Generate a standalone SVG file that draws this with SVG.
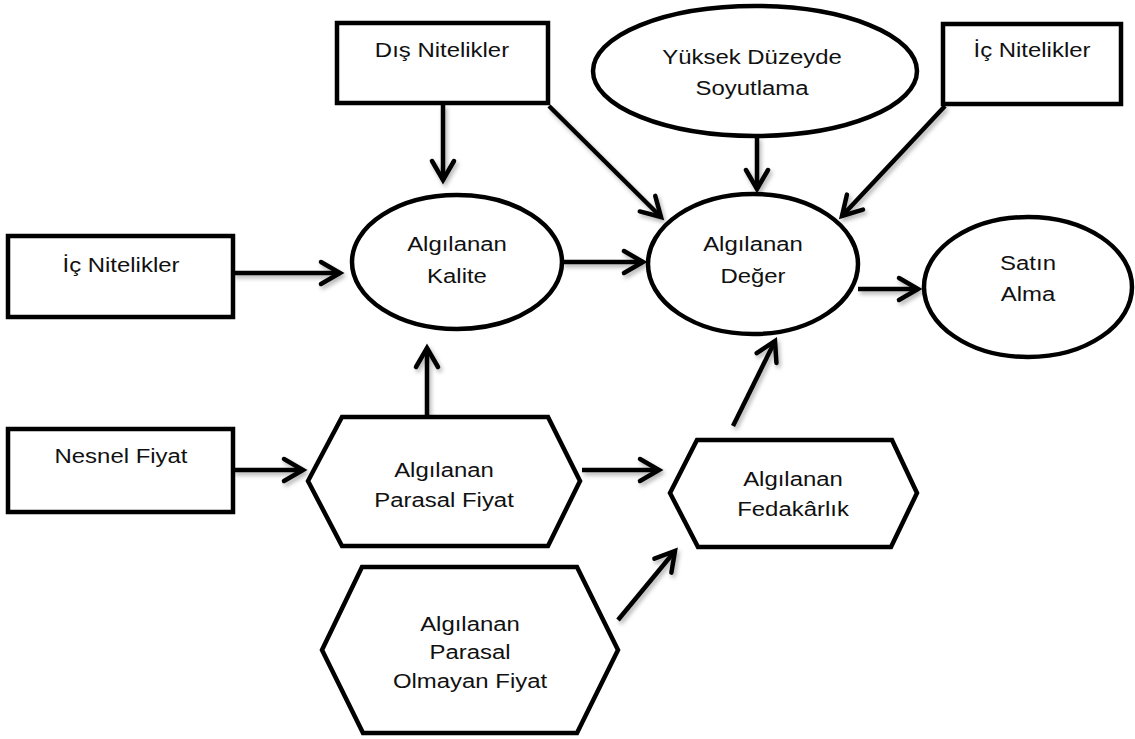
<svg xmlns="http://www.w3.org/2000/svg" width="1135" height="739" viewBox="0 0 1135 739">
  <style>
    .shape { fill: #ffffff; stroke: #000000; stroke-width: 4.5; stroke-linejoin: miter; }
    .lbl { font-family: "Liberation Sans", Arial, sans-serif; font-size: 21px; fill: #111111; text-anchor: middle; }
    .link { fill: none; stroke: #000000; stroke-width: 4.5; marker-end: url(#head); }
  </style>
  <defs>
    <marker id="head" markerUnits="userSpaceOnUse" markerWidth="40" markerHeight="40" viewBox="-25 -20 40 40" refX="0" refY="0" orient="auto" overflow="visible">
      <path d="M-19,-11 L0,0 L-19,11" fill="none" stroke="#000000" stroke-width="4.5" stroke-linecap="round" stroke-linejoin="miter"/>
    </marker>
    <filter id="soft" x="-20%" y="-20%" width="140%" height="140%">
      <feDropShadow dx="2" dy="3" stdDeviation="2" flood-color="#000000" flood-opacity="0.3"/>
    </filter>
  </defs>

  <rect width="1135" height="739" fill="#ffffff"/>

  <!-- connectors -->
  <g id="connectors" filter="url(#soft)">
    <path class="link" d="M443,105 L443,180"/>
    <path class="link" d="M549,106 L661,217"/>
    <path class="link" d="M757,137 L757,189"/>
    <path class="link" d="M945,106 L842,216"/>
    <path class="link" d="M233,273 L340,273"/>
    <path class="link" d="M562,262 L643,262"/>
    <path class="link" d="M858,289 L918,289"/>
    <path class="link" d="M427,417 L427,348"/>
    <path class="link" d="M233,470 L303,470"/>
    <path class="link" d="M582,470 L659,470"/>
    <path class="link" d="M733,426 L775,341"/>
    <path class="link" d="M618,620 L675,551"/>
  </g>

  <!-- nodes -->
  <g id="dis-nitelikler">
    <rect class="shape" x="337" y="23" width="211" height="80"/>
    <text class="lbl" transform="translate(442,57) scale(1.14,1)">Dış Nitelikler</text>
  </g>

  <g id="yuksek-duzeyde-soyutlama">
    <ellipse class="shape" cx="755" cy="71" rx="162" ry="65"/>
    <text class="lbl" transform="translate(752,64) scale(1.14,1)">Yüksek Düzeyde</text>
    <text class="lbl" transform="translate(752,95) scale(1.14,1)">Soyutlama</text>
  </g>

  <g id="ic-nitelikler-ust">
    <rect class="shape" x="943" y="24" width="178" height="80"/>
    <text class="lbl" transform="translate(1032,57) scale(1.14,1)">İç Nitelikler</text>
  </g>

  <g id="ic-nitelikler-sol">
    <rect class="shape" x="8" y="236" width="225" height="81"/>
    <text class="lbl" transform="translate(121,272) scale(1.14,1)">İç Nitelikler</text>
  </g>

  <g id="algilanan-kalite">
    <ellipse class="shape" cx="457" cy="262" rx="105" ry="67"/>
    <text class="lbl" transform="translate(457,251) scale(1.14,1)">Algılanan</text>
    <text class="lbl" transform="translate(457,283) scale(1.14,1)">Kalite</text>
  </g>

  <g id="algilanan-deger">
    <ellipse class="shape" cx="753" cy="264" rx="105" ry="70"/>
    <text class="lbl" transform="translate(753,251) scale(1.14,1)">Algılanan</text>
    <text class="lbl" transform="translate(753,283) scale(1.14,1)">Değer</text>
  </g>

  <g id="satin-alma">
    <ellipse class="shape" cx="1028" cy="287" rx="104" ry="70"/>
    <text class="lbl" transform="translate(1028,270) scale(1.14,1)">Satın</text>
    <text class="lbl" transform="translate(1028,301) scale(1.14,1)">Alma</text>
  </g>

  <g id="nesnel-fiyat">
    <rect class="shape" x="8" y="429" width="225" height="83"/>
    <text class="lbl" transform="translate(121,463) scale(1.14,1)">Nesnel Fiyat</text>
  </g>

  <g id="algilanan-parasal-fiyat">
    <polygon class="shape" points="308,481 342,417 548,417 580,481 548,546 342,546"/>
    <text class="lbl" transform="translate(444,477) scale(1.14,1)">Algılanan</text>
    <text class="lbl" transform="translate(444,507) scale(1.14,1)">Parasal Fiyat</text>
  </g>

  <g id="algilanan-fedakarlik">
    <polygon class="shape" points="670,493 697,440 892,440 917,493 891,547 698,547"/>
    <text class="lbl" transform="translate(793,486) scale(1.14,1)">Algılanan</text>
    <text class="lbl" transform="translate(793,516) scale(1.14,1)">Fedakârlık</text>
  </g>

  <g id="algilanan-parasal-olmayan-fiyat">
    <polygon class="shape" points="322,650 362,567 577,567 618,650 577,733 363,733"/>
    <text class="lbl" transform="translate(470,631) scale(1.14,1)">Algılanan</text>
    <text class="lbl" transform="translate(470,659) scale(1.14,1)">Parasal</text>
    <text class="lbl" transform="translate(470,688) scale(1.14,1)">Olmayan Fiyat</text>
  </g>
</svg>
